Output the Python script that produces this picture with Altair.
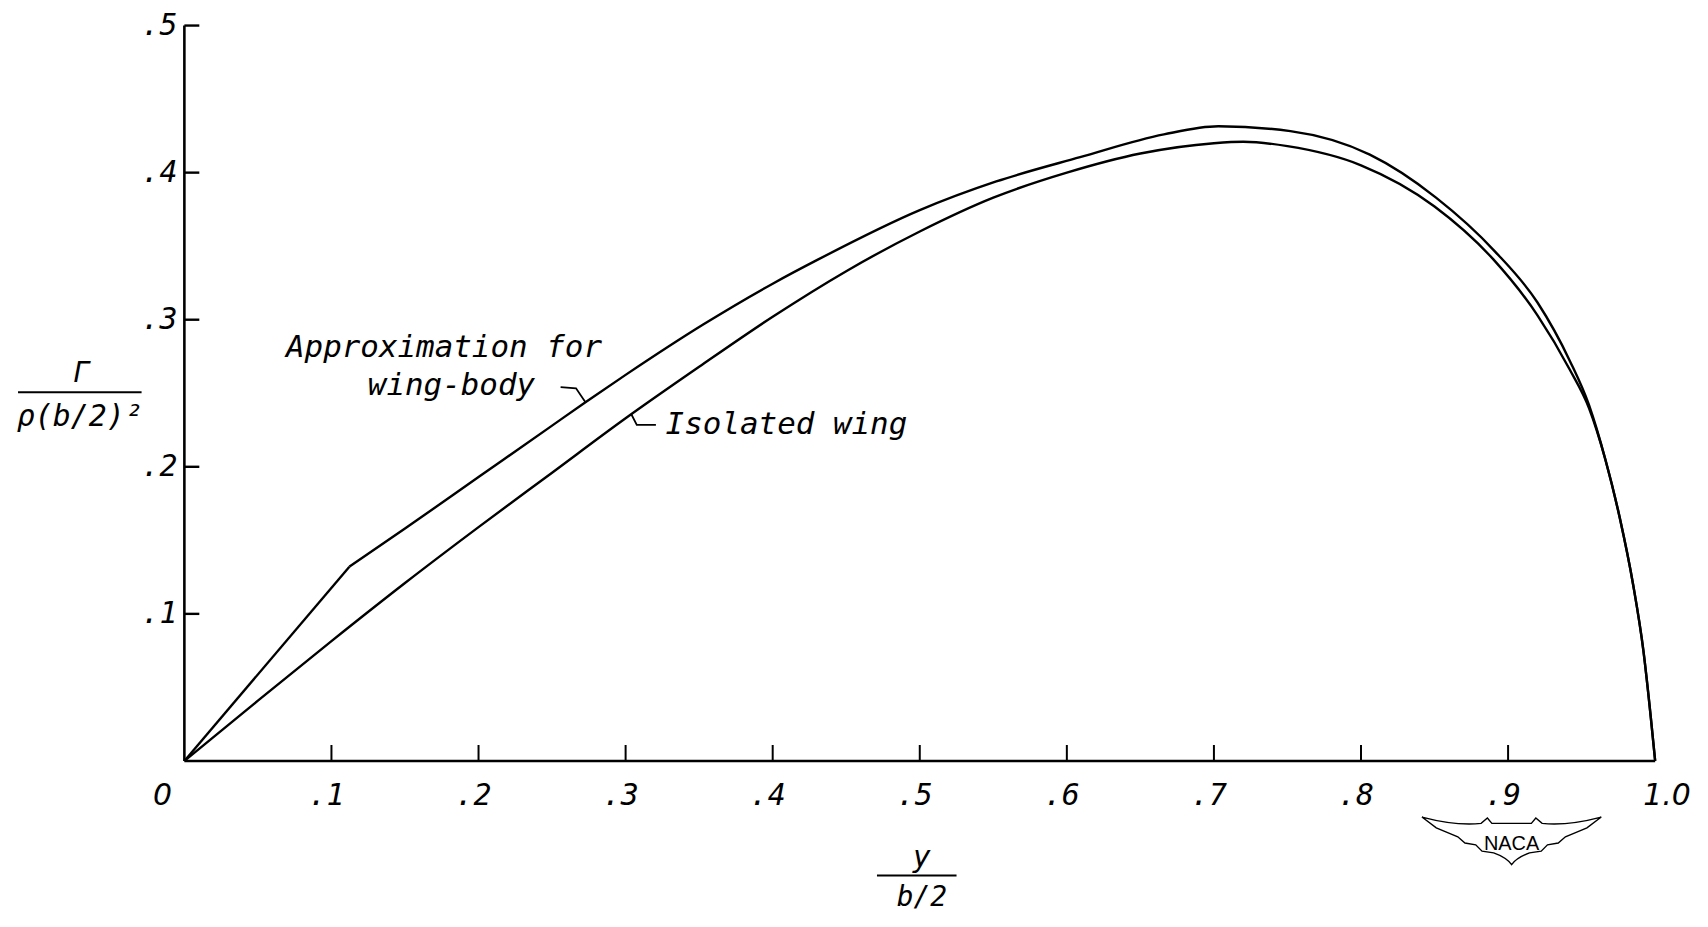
import altair as alt
import pandas as pd

# ---- data ----
iso_x = [0, 0.05, 0.1, 0.15, 0.2, 0.25, 0.3, 0.35, 0.4, 0.45, 0.5, 0.55, 0.6, 0.65, 0.7, 0.72,
         0.75, 0.8, 0.85, 0.89, 0.92, 0.942, 0.955, 0.966, 0.976, 0.985, 0.992, 0.997, 1.0]
iso_y = [0, 0.041, 0.0815, 0.121, 0.159, 0.196, 0.233, 0.268, 0.302, 0.333, 0.360, 0.383, 0.400,
         0.413, 0.420, 0.421, 0.418, 0.405, 0.377, 0.341, 0.303, 0.266, 0.240, 0.2055, 0.165,
         0.12, 0.075, 0.03, 0]

# wing-body: straight root segment up to the kink, then the faired curve
wb_root_x = [0, 0.1122]
wb_root_y = [0, 0.1321]
wb_x = [0.1122, 0.15, 0.2, 0.25, 0.2727, 0.3, 0.353, 0.4, 0.431, 0.5, 0.552, 0.609, 0.666,
        0.703, 0.752, 0.806, 0.851, 0.891, 0.92, 0.942, 0.955, 0.966, 0.976, 0.985, 0.992,
        0.997, 1.0]
wb_y = [0.1321, 0.158, 0.193, 0.228, 0.2439, 0.2625, 0.2969, 0.3245, 0.341, 0.3745, 0.394,
        0.4105, 0.426, 0.4315, 0.4282, 0.4122, 0.383, 0.3465, 0.3117, 0.272, 0.242, 0.2055,
        0.165, 0.12, 0.075, 0.03, 0]

x_domain = [0, 1]
y_domain = [0, 0.5]
x_tick_values = [0.1, 0.2, 0.3, 0.4, 0.5, 0.6, 0.7, 0.8, 0.9]
x_tick_labels = [".1", ".2", ".3", ".4", ".5", ".6", ".7", ".8", ".9"]
y_tick_values = [0.1, 0.2, 0.3, 0.4, 0.5]
y_tick_labels = [".1", ".2", ".3", ".4", ".5"]

# annotation texts
ann_text = ["Approximation for", "wing-body"]
ann_x = [0.1765, 0.1816]
ann_y = [0.2805, 0.2551]
iso_text = ["Isolated wing"]
iso_tx = [0.3272]
iso_ty = [0.2285]

lead_wb_x = [0.2558, 0.2663, 0.2727]
lead_wb_y = [0.2541, 0.2534, 0.2439]
lead_iso_x = [0.3038, 0.3076, 0.3206]
lead_iso_y = [0.2359, 0.2285, 0.2285]

W, H = 1476, 738
FONT = "DejaVu Sans Mono"
ZFONT = "DejaVu Sans"   # plain (unslashed) zero

xs = alt.Scale(domain=x_domain, nice=False, zero=False)
ys = alt.Scale(domain=y_domain, nice=False, zero=False)


def X(f):
    return alt.X(f, scale=xs, axis=None)


def Y(f):
    return alt.Y(f, scale=ys, axis=None)


curves = pd.DataFrame({
    "x": iso_x + wb_x,
    "y": iso_y + wb_y,
    "series": ["Isolated wing"] * len(iso_x) + ["Approximation for wing-body"] * len(wb_x),
})
root = pd.DataFrame({"x": wb_root_x, "y": wb_root_y})

lines = alt.Chart(curves).mark_line(color="black", strokeWidth=2.4, interpolate="monotone").encode(
    x=X("x:Q"), y=Y("y:Q"), detail="series:N")
root_line = alt.Chart(root).mark_line(color="black", strokeWidth=2.4).encode(
    x=X("x:Q"), y=Y("y:Q"))

# axis lines
x_axis = alt.Chart(pd.DataFrame({"a": [x_domain[0]], "b": [x_domain[1]], "y": [y_domain[0]]})).mark_rule(
    color="black", strokeWidth=2.6).encode(x=X("a:Q"), x2="b:Q", y=Y("y:Q"))
y_axis = alt.Chart(pd.DataFrame({"a": [y_domain[0]], "b": [y_domain[1]], "x": [x_domain[0]]})).mark_rule(
    color="black", strokeWidth=2.6).encode(y=Y("a:Q"), y2="b:Q", x=X("x:Q"))

xt = alt.Chart(pd.DataFrame({"v": x_tick_values})).mark_rule(color="black", strokeWidth=2).encode(
    x=X("v:Q"), y=alt.value(H), y2=alt.value(H - 16))
yt = alt.Chart(pd.DataFrame({"v": y_tick_values})).mark_rule(color="black", strokeWidth=2.4).encode(
    y=Y("v:Q"), x=alt.value(0), x2=alt.value(15))

tick_style = dict(fontSize=30, fontStyle="italic", color="black")

xl = alt.Chart(pd.DataFrame({"v": x_tick_values, "t": x_tick_labels})).mark_text(
    baseline="middle", align="center", dx=-5, font=FONT, **tick_style).encode(
    x=X("v:Q"), y=alt.value(H + 35), text="t:N")
xl0 = alt.Chart(pd.DataFrame({"v": [0.0], "t": ["0"]})).mark_text(
    baseline="middle", align="center", dx=-22, font=ZFONT, **tick_style).encode(
    x=X("v:Q"), y=alt.value(H + 35), text="t:N")
xl1 = alt.Chart(pd.DataFrame({"v": [1.0], "t": ["1.0"]})).mark_text(
    baseline="middle", align="center", dx=12, font=ZFONT, **tick_style).encode(
    x=X("v:Q"), y=alt.value(H + 35), text="t:N")
yl = alt.Chart(pd.DataFrame({"v": y_tick_values, "t": y_tick_labels})).mark_text(
    baseline="middle", align="right", dy=0, font=FONT, **tick_style).encode(
    y=Y("v:Q"), x=alt.value(-7), text="t:N")

ann_style = dict(font=FONT, fontSize=31, fontStyle="italic", color="black", baseline="middle")

ann = alt.Chart(pd.DataFrame({"x": ann_x, "y": ann_y, "t": ann_text})).mark_text(
    align="center", **ann_style).encode(x=X("x:Q"), y=Y("y:Q"), text="t:N")
ann2 = alt.Chart(pd.DataFrame({"x": iso_tx, "y": iso_ty, "t": iso_text})).mark_text(
    align="left", **ann_style).encode(x=X("x:Q"), y=Y("y:Q"), text="t:N")

leaders = pd.DataFrame({
    "x": lead_wb_x + lead_iso_x,
    "y": lead_wb_y + lead_iso_y,
    "k": ["wb"] * 3 + ["iso"] * 3,
    "o": [0, 1, 2, 0, 1, 2],
})
lead = alt.Chart(leaders).mark_line(color="black", strokeWidth=1.8).encode(
    x=X("x:Q"), y=Y("y:Q"), detail="k:N", order="o:Q")

# axis titles as fractions
frac_style = dict(font=FONT, fontStyle="italic", color="black", baseline="middle", align="center")
ytitle_top = alt.Chart(pd.DataFrame({"x": [-0.0698], "y": [0.2629], "t": ["Γ"]})).mark_text(
    fontSize=28, **frac_style).encode(x=X("x:Q"), y=Y("y:Q"), text="t:N")
ytitle_bot = alt.Chart(pd.DataFrame({"x": [-0.0711], "y": [0.2337], "t": ["ρ(b/2)²"]})).mark_text(
    fontSize=30, **frac_style).encode(x=X("x:Q"), y=Y("y:Q"), text="t:N")
ytitle_bar = alt.Chart(pd.DataFrame({"x": [-0.1131], "x2": [-0.0291], "y": [0.2507]})).mark_rule(
    color="black", strokeWidth=2.2).encode(x=X("x:Q"), x2="x2:Q", y=Y("y:Q"))

xtitle_top = alt.Chart(pd.DataFrame({"x": [0.5014], "y": [-0.0657], "t": ["y"]})).mark_text(
    fontSize=30, **frac_style).encode(x=X("x:Q"), y=Y("y:Q"), text="t:N")
xtitle_bot = alt.Chart(pd.DataFrame({"x": [0.5014], "y": [-0.0935], "t": ["b/2"]})).mark_text(
    fontSize=28, **frac_style).encode(x=X("x:Q"), y=Y("y:Q"), text="t:N")
xtitle_bar = alt.Chart(pd.DataFrame({"x": [0.4709], "x2": [0.525], "y": [-0.0779]})).mark_rule(
    color="black", strokeWidth=2.2).encode(x=X("x:Q"), x2="x2:Q", y=Y("y:Q"))

# NACA wings logo
wing_path = ("M -1,-0.26 Q -0.62,-0.16 -0.34,-0.19 L -0.27,-0.25 L -0.22,-0.19 "
             "L 0.22,-0.19 L 0.27,-0.25 L 0.34,-0.19 Q 0.62,-0.16 1,-0.26 "
             "L 0.84,-0.14 L 0.72,-0.09 L 0.6,-0.04 L 0.52,0.03 L 0.4,0.05 L 0.33,0.12 "
             "L 0.2,0.14 Q 0.06,0.19 0,0.27 Q -0.06,0.19 -0.2,0.14 L -0.33,0.12 L -0.4,0.05 "
             "L -0.52,0.03 L -0.6,-0.04 L -0.72,-0.09 L -0.84,-0.14 Z")
logo = alt.Chart(pd.DataFrame({"x": [0.9024], "y": [-0.054]})).mark_point(
    shape=wing_path, size=32400, filled=False, stroke="black", strokeWidth=1.4, opacity=1).encode(
    x=X("x:Q"), y=Y("y:Q"))
logo_text = alt.Chart(pd.DataFrame({"x": [0.9024], "y": [-0.0562], "t": ["NACA"]})).mark_text(
    font="Liberation Sans Narrow, Liberation Sans", fontSize=20, color="black",
    baseline="middle", align="center").encode(x=X("x:Q"), y=Y("y:Q"), text="t:N")

chart = alt.layer(
    x_axis, y_axis, lines, root_line, xt, yt, xl, xl0, xl1, yl, ann, ann2, lead,
    ytitle_top, ytitle_bot, ytitle_bar, xtitle_top, xtitle_bot, xtitle_bar, logo, logo_text,
).properties(
    width=W, height=H,
    background="white",
    autosize=alt.AutoSizeParams(type="none"),
    padding={"left": 177, "top": 16, "right": 45, "bottom": 158},
).configure_view(stroke="transparent", strokeWidth=0)

chart.save("out.html", embed_options={"renderer": "svg", "actions": False})
